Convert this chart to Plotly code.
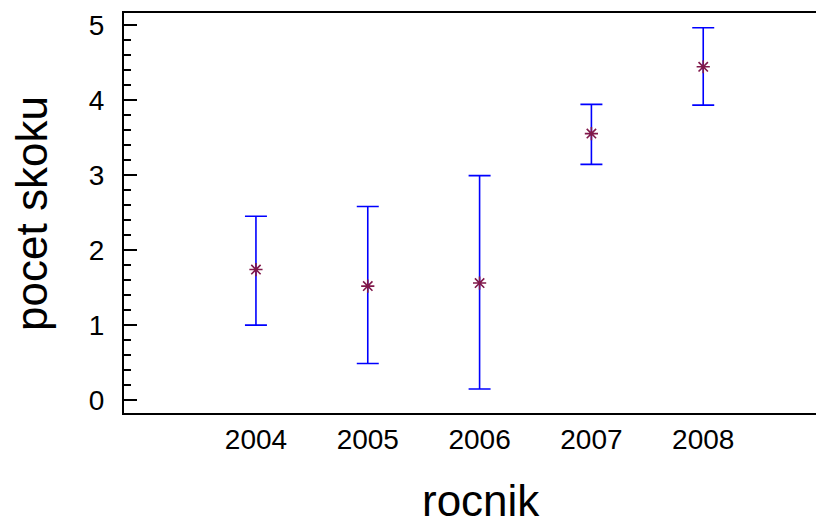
import plotly.graph_objects as go

years = [2004, 2005, 2006, 2007, 2008]
means = [1.74, 1.52, 1.56, 3.55, 4.44]
upper = [2.45, 2.58, 2.99, 3.94, 4.96]
lower = [1.00, 0.49, 0.15, 3.14, 3.93]

err_plus = [u - m for u, m in zip(upper, means)]
err_minus = [m - l for m, l in zip(means, lower)]

FONT = "Liberation Sans, Arial, sans-serif"

fig = go.Figure()
fig.add_trace(go.Scatter(
    x=years, y=means, mode="markers",
    marker=dict(symbol="asterisk-open", size=11, color="#80184a",
                line=dict(color="#80184a", width=1.6)),
    error_y=dict(type="data", symmetric=False, array=err_plus, arrayminus=err_minus,
                 color="#0000ff", thickness=1.6, width=11),
    showlegend=False,
))

fig.update_layout(
    width=816, height=509,
    margin=dict(l=116, r=0, t=5, b=104),
    paper_bgcolor="white", plot_bgcolor="white",
    font=dict(family=FONT, color="black"),
    xaxis=dict(
        range=[2002.82, 2009.08],
        tickvals=years, ticktext=[str(y) for y in years],
        showgrid=False, zeroline=False,
        showline=True, linecolor="black", linewidth=2, mirror=True,
        ticks="", tickfont=dict(size=28, family=FONT, color="black"),
        ticklabelstandoff=0,
    ),
    yaxis=dict(
        range=[-0.17, 5.156],
        tickvals=[0, 1, 2, 3, 4, 5],
        showgrid=False, zeroline=False,
        showline=True, linecolor="black", linewidth=2,
        ticks="inside", ticklen=13, tickwidth=2, tickcolor="black",
        minor=dict(dtick=0.2, ticks="inside", ticklen=7, tickwidth=2,
                   tickcolor="black", showgrid=False),
        tickfont=dict(size=28, family=FONT, color="black"),
        ticklabelstandoff=12,
    ),
    annotations=[
        dict(text="rocnik", xref="paper", yref="paper", x=0.51, y=-0.155,
             xanchor="center", yanchor="top", showarrow=False, borderpad=0,
             font=dict(size=44, family=FONT, color="black")),
        dict(text="pocet skoku", xref="paper", yref="paper", x=-0.133, y=0.5,
             xanchor="center", yanchor="middle", textangle=-90, showarrow=False,
             borderpad=0,
             font=dict(size=44, family=FONT, color="black")),
    ],
)

fig.write_html("out.html")
